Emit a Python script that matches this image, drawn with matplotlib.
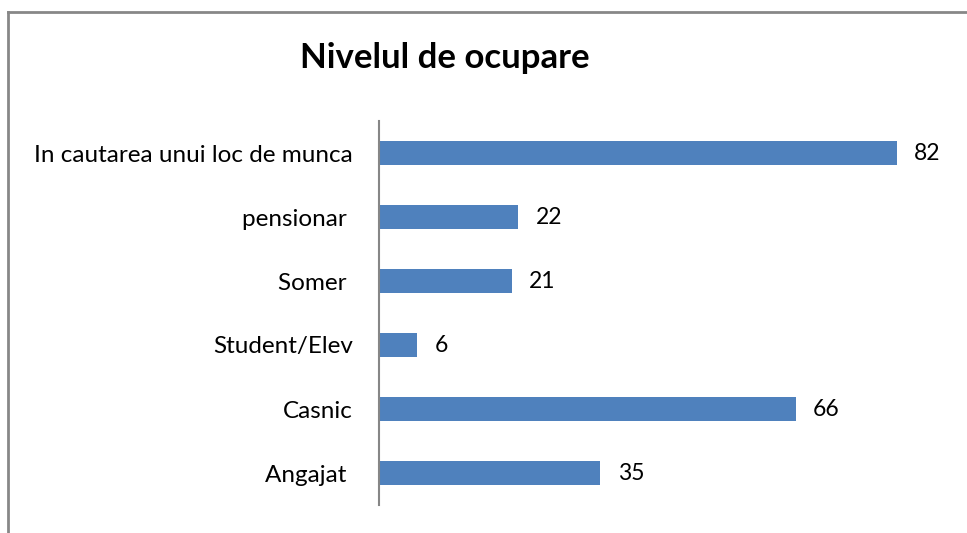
import matplotlib.pyplot as plt
from matplotlib.lines import Line2D

# Nivelul de ocupare
categorii = ["Angajat ", "Casnic", "Student/Elev", "Somer ", "pensionar ",
             "In cautarea unui loc de munca"]
valori = [35, 66, 6, 21, 22, 82]

plt.rcParams['font.family'] = ['Lato', 'DejaVu Sans']

fig = plt.figure(figsize=(9.67, 5.33), dpi=100)
ax = fig.add_axes([379/967, 28/533, 568/967, 384/533])

ax.barh(range(len(valori)), valori, height=0.39, color="#4F81BD")
ax.set_xlim(0, 90)
ax.set_ylim(-0.5, len(valori) - 0.5)
ax.set_yticks(range(len(valori)))
ax.set_yticklabels(categorii, fontsize=17.5)
ax.tick_params(axis='y', length=0, pad=19)
ax.set_xticks([])
for s in ["top", "right", "bottom"]:
    ax.spines[s].set_visible(False)
ax.spines["left"].set_color("#868686")
ax.spines["left"].set_linewidth(1.5)

for i, v in enumerate(valori):
    ax.text(v + 2.8, i, str(v), va="center", ha="left", fontsize=16.5)

fig.text(445/967, 1 - 58/533, "Nivelul de ocupare", ha="center", va="center",
         fontsize=25, fontweight="bold")

# chenarul graficului
fig.add_artist(Line2D([8/967, 8/967], [0, 1 - 12/533], color="#878787", lw=2,
                      transform=fig.transFigure))
fig.add_artist(Line2D([8/967, 1], [1 - 12/533, 1 - 12/533], color="#878787", lw=2,
                      transform=fig.transFigure))

fig.savefig("out.png", dpi=100)
